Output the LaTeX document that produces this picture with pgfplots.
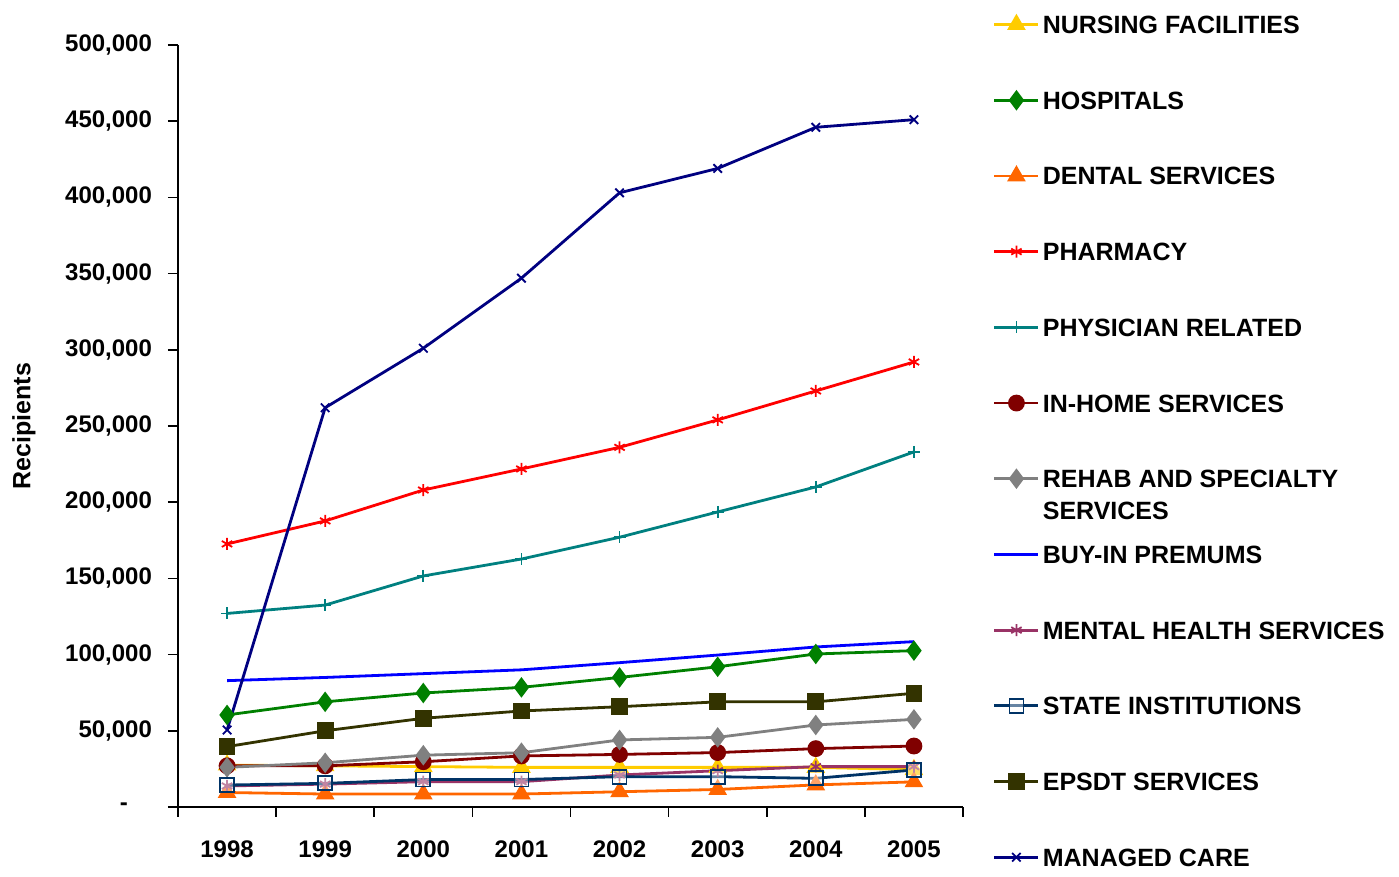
\documentclass[border=0pt]{standalone}
\usepackage{pgfplots}
\pgfplotsset{compat=1.18}
\usepackage{fontspec}
\setmainfont{Liberation Sans}
\definecolor{cNurs}{HTML}{FFCC00}
\definecolor{cHosp}{HTML}{008000}
\definecolor{cDent}{HTML}{FF6600}
\definecolor{cPhar}{HTML}{FF0000}
\definecolor{cPhys}{HTML}{008080}
\definecolor{cHome}{HTML}{800000}
\definecolor{cReha}{HTML}{808080}
\definecolor{cBuy}{HTML}{0000FF}
\definecolor{cMent}{HTML}{993366}
\definecolor{cStat}{HTML}{003366}
\definecolor{cEps}{HTML}{333300}
\definecolor{cMan}{HTML}{000080}
\begin{document}
\begin{tikzpicture}
\path (-89pt,-35pt) rectangle (610.5pt,403.5pt);
\begin{axis}[
  at={(0,0)}, anchor=south west,
  scale only axis, width=392.5pt, height=381pt,
  xmin=-0.5, xmax=7.5, ymin=0, ymax=500000,
  scaled y ticks=false,
  axis lines=left, axis line style={-, black, line width=0.8pt},
  tick align=outside, major tick length=5pt,
  xtick={-0.5,0.5,...,7.5}, xticklabels=\empty,
  extra x ticks={0,1,2,3,4,5,6,7},
  extra x tick labels={1998,1999,2000,2001,2002,2003,2004,2005},
  extra x tick style={major tick length=0pt},
  ytick={0,50000,...,500000},
  yticklabels={{-\kern12pt},{50,000},{100,000},{150,000},{200,000},{250,000},{300,000},{350,000},{400,000},{450,000},{500,000}},
  tick style={black, line width=0.8pt},
  /pgf/number format/assume math mode=true,
  ticklabel style={font=\bfseries\fontsize{12}{14}\selectfont},
  xticklabel style={yshift=-13pt},
  yticklabel style={xshift=-4pt},
  ylabel={Recipients},
  every axis y label/.style={at={(-77pt,190.5pt)}, anchor=center, rotate=90, font=\bfseries\fontsize{12.5}{14}\selectfont},
  line width=1.4pt,
  legend style={at={(1.0365,1.0405)}, anchor=north west, draw=none, fill=none,
    font=\bfseries\fontsize{12.5}{14}\selectfont,
    inner sep=0pt, row sep=28.85pt,
    nodes={inner sep=0pt, text height=9pt, text depth=0pt},
    /tikz/every odd column/.append style={column sep=1.5pt}},
  legend cell align=left,
  legend image code/.code={\draw[mark repeat=2,mark phase=2,#1] plot coordinates {(0pt,0pt) (11pt,0pt) (22pt,0pt)};},
]
\addplot[color=cNurs, mark=triangle*, mark size=4pt] coordinates {(0,27500)(1,27000)(2,26500)(3,26000)(4,26000)(5,26000)(6,26000)(7,24500)};
\addlegendentry{NURSING FACILITIES}
\addplot[color=cHosp, mark=diamond*, mark size=4pt] coordinates {(0,60400)(1,69000)(2,74800)(3,78500)(4,85000)(5,92000)(6,100400)(7,102600)};
\addlegendentry{HOSPITALS}
\addplot[color=cDent, mark=triangle*, mark size=4pt] coordinates {(0,9500)(1,8500)(2,8500)(3,8500)(4,10000)(5,11500)(6,14500)(7,16500)};
\addlegendentry{DENTAL SERVICES}
\addplot[color=cPhar, mark=asterisk, mark size=3pt, mark options={line width=0.9pt}] coordinates {(0,172600)(1,187700)(2,208000)(3,221800)(4,236000)(5,254000)(6,273000)(7,292000)};
\addlegendentry{PHARMACY}
\addplot[color=cPhys, mark=+, mark size=3pt, mark options={line width=0.9pt}] coordinates {(0,127000)(1,132500)(2,151600)(3,162700)(4,177000)(5,193600)(6,210000)(7,233000)};
\addlegendentry{PHYSICIAN RELATED}
\addplot[color=cHome, mark=*, mark size=3.5pt] coordinates {(0,27000)(1,27000)(2,29700)(3,33500)(4,34500)(5,35700)(6,38300)(7,40000)};
\addlegendentry{IN-HOME SERVICES}
\addplot[color=cReha, mark=diamond*, mark size=4pt] coordinates {(0,26000)(1,29000)(2,34000)(3,35600)(4,44000)(5,45700)(6,53800)(7,57500)};
\addlegendentry{\raisebox{0pt}[\height][0pt]{\begin{tabular}[t]{@{}l@{}}REHAB AND SPECIALTY\\[2pt]SERVICES\end{tabular}}}
\addplot[color=cBuy] coordinates {(0,82900)(1,85000)(2,87500)(3,90000)(4,94700)(5,99700)(6,105000)(7,108500)};
\addlegendentry{BUY-IN PREMUMS}
\addplot[color=cMent, mark=asterisk, mark size=3pt, mark options={line width=0.9pt}] coordinates {(0,13800)(1,15000)(2,16600)(3,16600)(4,21000)(5,23800)(6,26500)(7,26500)};
\addlegendentry{MENTAL HEALTH SERVICES}
\addplot[color=cStat, mark=square*, mark size=3.5pt, mark options={fill=white, fill opacity=0.4, line width=0.9pt}] coordinates {(0,14400)(1,15500)(2,18000)(3,18000)(4,19900)(5,19900)(6,18800)(7,24300)};
\addlegendentry{STATE INSTITUTIONS}
\addplot[color=cEps, mark=square*, mark size=3.5pt] coordinates {(0,39600)(1,50000)(2,58200)(3,63000)(4,65800)(5,69000)(6,69000)(7,74600)};
\addlegendentry{EPSDT SERVICES}
\addplot[color=cMan, mark=x, mark size=3pt, mark options={line width=0.9pt}] coordinates {(0,50500)(1,262000)(2,301000)(3,347000)(4,403000)(5,419000)(6,446000)(7,451000)};
\addlegendentry{MANAGED CARE}
\end{axis}
\end{tikzpicture}
\end{document}
